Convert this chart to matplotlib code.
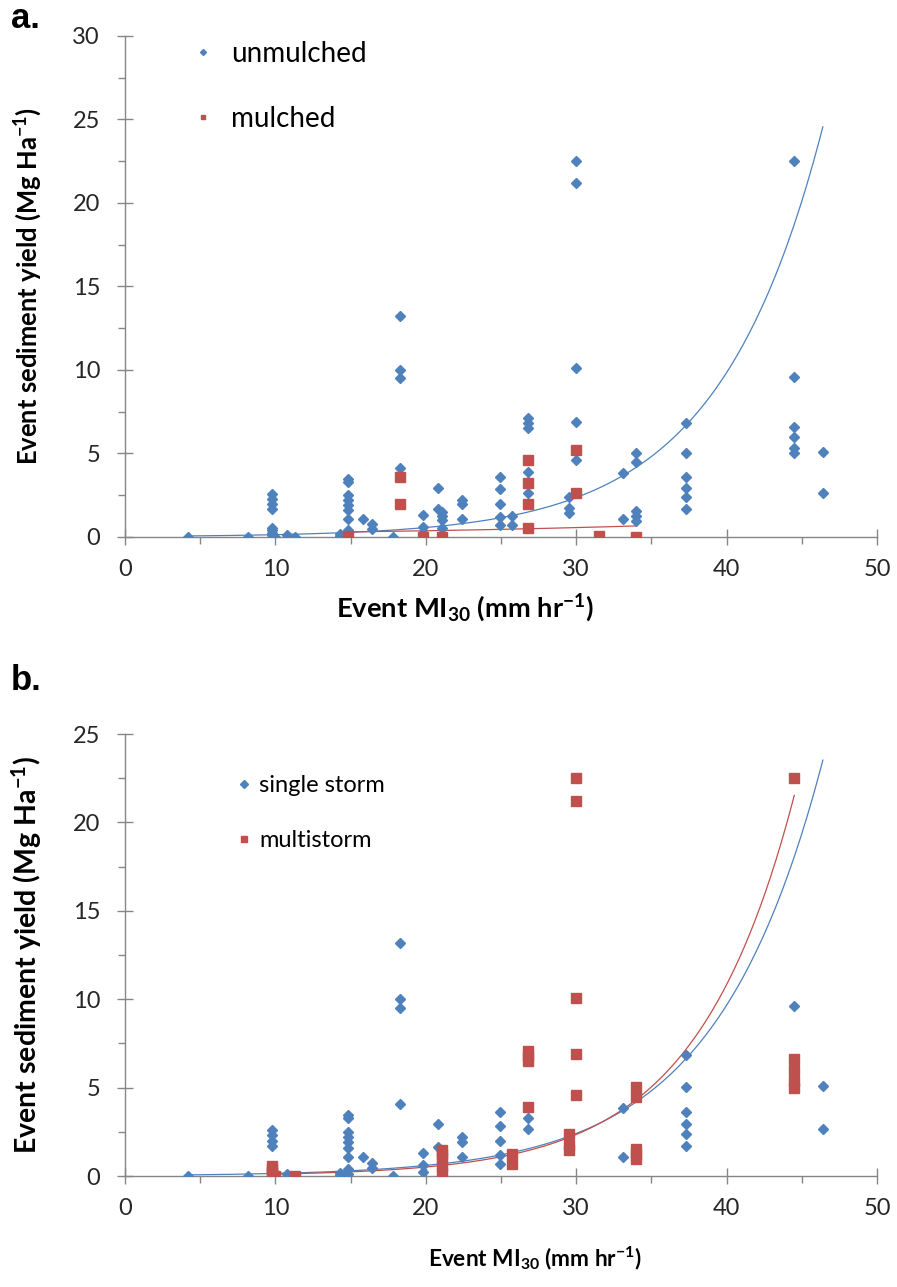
import numpy as np
import matplotlib
matplotlib.use('Agg')
import matplotlib.pyplot as plt
from matplotlib.ticker import MultipleLocator

plt.rcParams['font.family'] = ['Lato', 'DejaVu Sans']
plt.rcParams['mathtext.default'] = 'regular'

BLUE = '#4F81BD'
RED = '#C0504D'
AXIS = '#868686'

# single storm events (unmulched plots)
single_x = [4.2, 8.2, 9.8, 9.8, 9.8, 9.8, 10.8, 14.3, 14.3, 14.8, 14.8, 14.8, 14.8, 14.8,
            14.8, 14.8, 14.8, 14.8, 15.8, 16.4, 16.4, 17.8, 18.3, 18.3, 18.3, 18.3, 19.8,
            19.8, 19.8, 20.8, 20.8, 22.4, 22.4, 22.4, 24.9, 24.9, 24.9, 24.9, 24.9, 26.8,
            26.8, 33.1, 33.1, 37.3, 37.3, 37.3, 37.3, 37.3, 37.3, 44.5, 46.4, 46.4]
single_y = [0.0, 0.0, 2.6, 2.3, 2.0, 1.7, 0.1, 0.2, 0.05, 3.45, 3.3, 2.5, 2.2, 1.9,
            1.6, 1.1, 0.4, 0.1, 1.1, 0.75, 0.45, 0.0, 13.2, 10.0, 9.5, 4.1, 1.3,
            0.6, 0.25, 2.95, 1.65, 2.2, 1.95, 1.1, 3.6, 2.85, 2.0, 1.2, 0.7, 3.3,
            2.65, 3.85, 1.08, 6.85, 5.05, 3.6, 2.95, 2.4, 1.7, 9.6, 5.1, 2.65]

# multistorm events (unmulched plots)
multi_x = [9.8, 9.8, 9.8, 9.8, 10.0, 11.3, 21.1, 21.1, 21.1, 21.1, 21.1, 25.7, 25.7,
           26.8, 26.8, 26.8, 26.8, 29.5, 29.5, 29.5, 30.0, 30.0, 30.0, 30.0, 30.0,
           34.0, 34.0, 34.0, 34.0, 34.0, 44.5, 44.5, 44.5, 44.5, 44.5]
multi_y = [0.55, 0.4, 0.25, 0.1, 0.0, 0.0, 1.5, 1.25, 1.0, 0.55, 0.2, 1.25, 0.7,
           7.1, 6.8, 6.5, 3.9, 2.4, 1.75, 1.45, 22.5, 21.2, 10.1, 6.9, 4.6,
           5.05, 4.5, 1.55, 1.25, 0.95, 22.5, 6.6, 6.0, 5.35, 5.0]

# mulched plots
mulched_x = [14.8, 18.3, 18.3, 19.8, 21.1, 26.8, 26.8, 26.8, 26.8, 30.0, 30.0, 31.5, 34.0]
mulched_y = [0.05, 3.6, 2.0, 0.0, 0.0, 4.6, 3.2, 2.0, 0.55, 5.2, 2.65, 0.06, 0.0]

unmulched_x = single_x + multi_x
unmulched_y = single_y + multi_y

# exponential trendlines y = a*exp(b*x)
trend_unmulched = (0.0324, 0.1429)
trend_mulched = (0.161, 0.0415)
trend_single = (0.0372, 0.139)
trend_multi = (0.024, 0.1528)


def trend(ax, xs, coef, color):
    xx = np.linspace(min(xs), max(xs), 200)
    ax.plot(xx, coef[0] * np.exp(coef[1] * xx), color=color, lw=0.9, zorder=2)


def style(ax, ymax):
    for s in ['top', 'right']:
        ax.spines[s].set_visible(False)
    for s in ['left', 'bottom']:
        ax.spines[s].set_color(AXIS)
        ax.spines[s].set_linewidth(1.0)
    ax.set_xlim(0, 50)
    ax.set_ylim(0, ymax)
    ax.xaxis.set_major_locator(MultipleLocator(10))
    ax.xaxis.set_minor_locator(MultipleLocator(5))
    ax.yaxis.set_major_locator(MultipleLocator(5))
    ax.yaxis.set_minor_locator(MultipleLocator(2.5))
    ax.tick_params(which='major', direction='inout', length=12, width=1.0, color=AXIS,
                   labelsize=17, labelcolor='#262626')
    ax.tick_params(which='minor', direction='out', length=5, width=1.0, color=AXIS)
    ax.tick_params(axis='x', which='major', pad=10)
    ax.tick_params(axis='y', which='major', pad=12)
    ax.set_xlabel('Event MI$_{30}$ (mm hr$^{-1}$)', fontsize=15, fontweight='bold')
    ax.set_ylabel('Event sediment yield (Mg Ha$^{-1}$)', fontsize=15, fontweight='bold')
    ax.yaxis.set_label_coords(-0.108, 0.5)
    ax.patch.set_alpha(0)


def fit(text, target_px, renderer):
    # scale the font so the text spans the wanted number of pixels
    bb = text.get_window_extent(renderer)
    length = max(bb.width, bb.height)
    text.set_fontsize(text.get_fontsize() * target_px / length)


fig = plt.figure(figsize=(8.97, 12.87), dpi=100)

# panel a
ax1 = fig.add_axes([0.1394, 0.5828, 0.8383, 0.3893])
style(ax1, 30)
trend(ax1, unmulched_x, trend_unmulched, BLUE)
trend(ax1, mulched_x, trend_mulched, RED)
h1, = ax1.plot(unmulched_x, unmulched_y, 'D', ms=5.5, color=BLUE, mec=BLUE, zorder=3,
               label='unmulched')
h2, = ax1.plot(mulched_x, mulched_y, 's', ms=6.5, color=RED, mec=RED, zorder=3,
               label='mulched')
ax1.legend(handles=[h1, h2], loc='upper left', bbox_to_anchor=(0.06, 1.04),
           frameon=False, fontsize=20, labelspacing=1.4, handlelength=0.6,
           handletextpad=0.7, markerscale=0.55)
ax1.xaxis.set_label_coords(0.452, -0.11)

# panel b
ax2 = fig.add_axes([0.1394, 0.0862, 0.8383, 0.3434])
style(ax2, 25)
trend(ax2, single_x, trend_single, BLUE)
trend(ax2, multi_x, trend_multi, RED)
h3, = ax2.plot(single_x, single_y, 'D', ms=5.5, color=BLUE, mec=BLUE, zorder=3,
               label='single storm')
h4, = ax2.plot(multi_x, multi_y, 's', ms=6.5, color=RED, mec=RED, zorder=3,
               label='multistorm')
ax2.legend(handles=[h3, h4], loc='upper left', bbox_to_anchor=(0.12, 0.955),
           frameon=False, fontsize=17, labelspacing=1.45, handlelength=0.6,
           handletextpad=0.35, markerscale=0.75)
ax2.xaxis.set_label_coords(0.545, -0.155)

fig.text(0.012, 0.978, 'a.', fontsize=25, fontweight='bold', family='Liberation Sans')
fig.text(0.012, 0.464, 'b.', fontsize=25, fontweight='bold', family='Liberation Sans')

r = fig.canvas.get_renderer()
fit(ax1.xaxis.label, 260, r)
fit(ax1.yaxis.label, 360, r)
fit(ax2.xaxis.label, 215, r)
fit(ax2.yaxis.label, 400, r)

fig.savefig('out.png', dpi=100)
